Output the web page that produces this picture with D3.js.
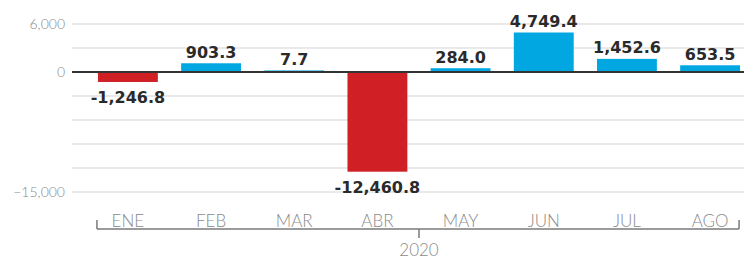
<!DOCTYPE html>
<html>
<head>
<meta charset="utf-8">
<script src="https://cdn.jsdelivr.net/npm/d3@7"></script>
<style>
  html, body { margin: 0; padding: 0; background: #fff; }
  svg { display: block; }
  .ylab { font-family: Lato, "Open Sans", sans-serif; font-weight: 300; font-size: 14px; fill: #8a8a8a; }
  .mlab { font-family: Lato, "Open Sans", sans-serif; font-weight: 300; font-size: 17px; fill: #8a8a8a; }
  .val { font-family: "DejaVu Sans", sans-serif; font-weight: bold; font-size: 16px; fill: #2a2a2a; }
</style>
</head>
<body>
<div id="chart"></div>
<script>
// datos
const months = ['ENE', 'FEB', 'MAR', 'ABR', 'MAY', 'JUN', 'JUL', 'AGO'];
const values = [-1246.8, 903.3, 7.7, -12460.8, 284.0, 4749.4, 1452.6, 653.5];
const gridTicks = [6000, 3000, -3000, -6000, -9000, -12000, -15000];
const labelTicks = [6000, 0, -15000];
const yearLabel = '2020';

const width = 744, height = 262;

const svg = d3.select('#chart').append('svg')
    .attr('width', width)
    .attr('height', height);

// escalas
const y = d3.scaleLinear().domain([-15000, 6000]).range([192, 24]);
const x = d3.scaleBand()
    .domain(months)
    .range([86.3, 751.7])
    .paddingInner(0.28)
    .paddingOuter(0.14);

// lineas de cuadricula
svg.append('g').selectAll('line')
    .data(gridTicks)
    .join('line')
    .attr('x1', 72).attr('x2', width)
    .attr('y1', d => y(d)).attr('y2', d => y(d))
    .attr('stroke', '#e9e9e9')
    .attr('stroke-width', 2);

// etiquetas eje y
svg.append('g').selectAll('text')
    .data(labelTicks)
    .join('text')
    .attr('class', 'ylab')
    .attr('x', 65)
    .attr('y', d => y(d))
    .attr('dy', '0.35em')
    .attr('text-anchor', 'end')
    .text(d => d3.format(',')(d));

// barras
svg.append('g').selectAll('rect')
    .data(values)
    .join('rect')
    .attr('x', (d, i) => x(months[i]))
    .attr('width', x.bandwidth())
    .attr('y', d => d >= 0 ? y(d) - 1.5 : y(0))
    .attr('height', d => Math.abs(y(d) - y(0)) + (d >= 0 ? 1.5 : 0))
    .attr('fill', d => d >= 0 ? '#00a7e1' : '#d11f26');

// linea cero
svg.append('line')
    .attr('x1', 72).attr('x2', width)
    .attr('y1', y(0)).attr('y2', y(0))
    .attr('stroke', '#333')
    .attr('stroke-width', 2);

// etiquetas de valores
svg.append('g').selectAll('text')
    .data(values)
    .join('text')
    .attr('class', 'val')
    .attr('x', (d, i) => x(months[i]) + x.bandwidth() / 2)
    .attr('y', d => d >= 0 ? y(d) - 7 : y(d) + 21)
    .attr('text-anchor', 'middle')
    .text(d => d3.format(',.1f')(d).replace('\u2212', '-'));

// eje x
const axisY = 229;
const x0 = x(months[0]) - 1;
const x1 = x(months[months.length - 1]) + x.bandwidth() - 1;
const ax = svg.append('g').attr('stroke', '#7a7a7a').attr('stroke-width', 1.5);
ax.append('line').attr('x1', x0).attr('x2', x1).attr('y1', axisY).attr('y2', axisY);
ax.append('line').attr('x1', x0).attr('x2', x0).attr('y1', axisY - 9).attr('y2', axisY);
ax.append('line').attr('x1', x1).attr('x2', x1).attr('y1', axisY - 9).attr('y2', axisY);
const mid = (x(months[3]) + x.bandwidth() + x(months[4])) / 2;
ax.append('line').attr('x1', mid).attr('x2', mid).attr('y1', axisY).attr('y2', axisY + 9);

svg.append('g').selectAll('text')
    .data(months)
    .join('text')
    .attr('class', 'mlab')
    .attr('x', d => x(d) + x.bandwidth() / 2)
    .attr('y', axisY - 2)
    .attr('text-anchor', 'middle')
    .text(d => d);

svg.append('text')
    .attr('class', 'mlab')
    .attr('x', mid)
    .attr('y', 256)
    .attr('text-anchor', 'middle')
    .text(yearLabel);
</script>
</body>
</html>
